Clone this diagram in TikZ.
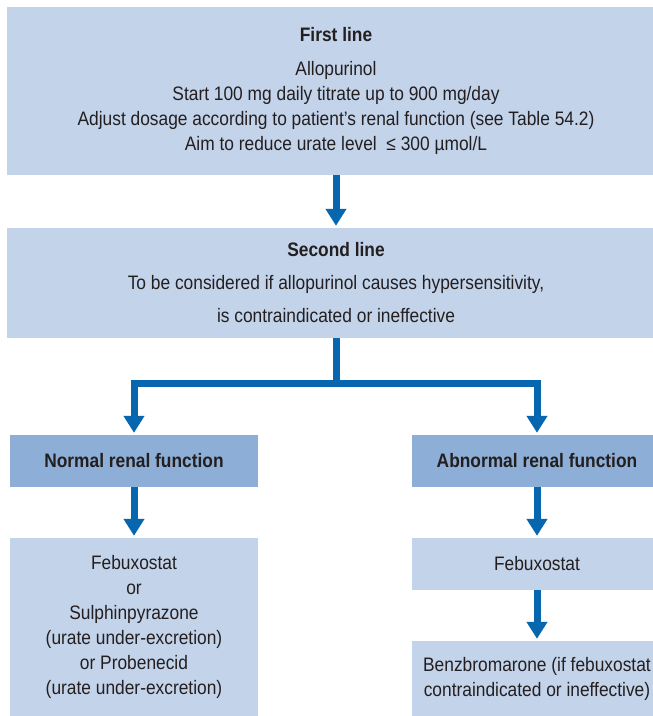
\documentclass[tikz,border=0pt]{standalone}
\usepackage{fontspec}
\setmainfont{Liberation Sans}[FakeStretch=0.89]
\usetikzlibrary{arrows.meta}
\definecolor{boxfill}{HTML}{C3D3EA}
\definecolor{headfill}{HTML}{8DAED6}
\definecolor{arrowblue}{HTML}{0667AE}
\definecolor{txt}{HTML}{231F20}
\begin{document}
\begin{tikzpicture}[x=1pt,y=-1pt,
  lightbox/.style={fill=boxfill, draw=none, inner sep=0pt, align=center, text=txt,
    font=\fontsize{19.5}{25}\selectfont},
  headbox/.style={fill=headfill, draw=none, inner sep=0pt, align=center, text=txt,
    font=\fontsize{19.5}{25}\selectfont\bfseries},
  flow/.style={draw=arrowblue, line width=7pt, -{Triangle[width=20pt,length=17pt]}, shorten >=2pt}
]
\useasboundingbox (0,0) rectangle (653,716);
\clip (0,0) rectangle (653,716);
\fill[white] (0,0) rectangle (653,716);

\node[lightbox, minimum width=658pt, minimum height=168pt] (first) at (336,91)
  {\textbf{First line}\\[9pt]
   Allopurinol\\
   Start 100 mg daily titrate up to 900 mg/day\\
   Adjust dosage according to patient’s renal function (see Table 54.2)\\
   Aim to reduce urate level \ ≤ 300 µmol/L};

\node[lightbox, minimum width=658pt, minimum height=110pt] (second) at (336,283)
  {\textbf{Second line}\\[8pt]
   To be considered if allopurinol causes hypersensitivity,\\[8pt]
   is contraindicated or ineffective};

\node[headbox, minimum width=248pt, minimum height=52pt] (lefthead) at (134,461)
  {Normal renal function};
\node[headbox, minimum width=250pt, minimum height=52pt] (righthead) at (537,461)
  {Abnormal renal function};

\node[lightbox, minimum width=248pt, minimum height=178pt] (leftbody) at (134,627)
  {Febuxostat\\ or\\ Sulphinpyrazone\\ (urate under-excretion)\\ or Probenecid\\ (urate under-excretion)};

\node[lightbox, minimum width=250pt, minimum height=52pt] (feb) at (537,564)
  {Febuxostat};
\node[lightbox, minimum width=250pt, minimum height=75pt] (benz) at (537,678.5)
  {Benzbromarone (if febuxostat\\ contraindicated or ineffective)};

\draw[flow] (first.south) -- (second.north);
\draw[flow] (second.south) -- ++(0,45) -| (lefthead.north);
\draw[flow] (second.south) -- ++(0,45) -| (righthead.north);
\draw[flow] (lefthead.south) -- (leftbody.north);
\draw[flow] (righthead.south) -- (feb.north);
\draw[flow] (feb.south) -- (benz.north);
\end{tikzpicture}
\end{document}
